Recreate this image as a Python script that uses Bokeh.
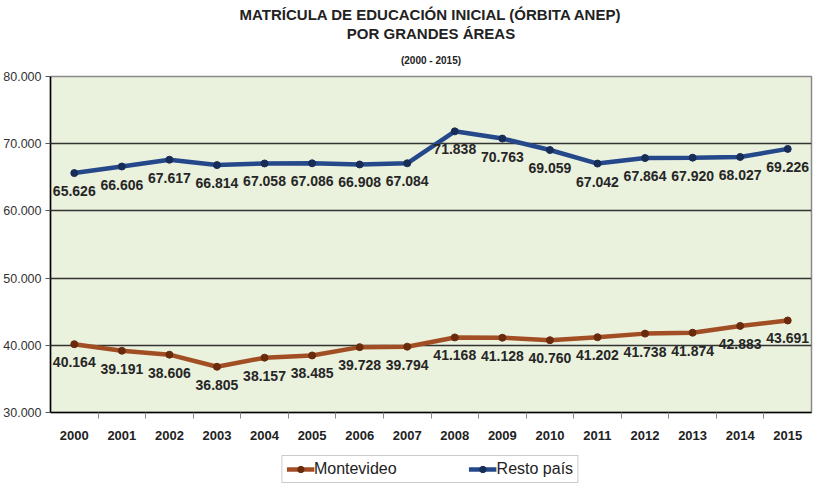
from bokeh.plotting import figure
from bokeh.layouts import column
from bokeh.models import (Title, Legend, LegendItem, FixedTicker, ColumnDataSource, Range1d, Spacer)
from bokeh.core.properties import value
from bokeh.embed import file_html
from bokeh.resources import INLINE

years = list(range(2000, 2016))
montevideo = [40164, 39191, 38606, 36805, 38157, 38485, 39728, 39794, 41168, 41128,
              40760, 41202, 41738, 41874, 42883, 43691]
resto = [65626, 66606, 67617, 66814, 67058, 67086, 66908, 67084, 71838, 70763,
         69059, 67042, 67864, 67920, 68027, 69226]
y_ticks = [30000, 40000, 50000, 60000, 70000, 80000]
title_1 = "MATRÍCULA DE EDUCACIÓN INICIAL (ÓRBITA ANEP)"
title_2 = "POR GRANDES ÁREAS"
subtitle = "(2000 - 2015)"
series_names = ["Montevideo", "Resto país"]

def fmt(v):
    return "{:,}".format(v).replace(",", ".")

mv_labels = [fmt(v) for v in montevideo]
rp_labels = [fmt(v) for v in resto]

src_mv = ColumnDataSource(dict(x=years, y=montevideo, t=mv_labels))
src_rp = ColumnDataSource(dict(x=years, y=resto, t=rp_labels))

p = figure(frame_width=761, frame_height=336, output_backend="svg", toolbar_location=None,
           x_range=Range1d(1999.5, 2015.5), y_range=Range1d(30000, 80000),
           min_border_left=48, min_border_right=2, min_border_top=0, min_border_bottom=36)
p.border_fill_color = "white"
p.background_fill_color = "#EAF1DD"
p.outline_line_color = "#8a8a8a"
p.outline_line_width = 1.5

tfont = "Liberation Sans"
sub = Title(text=subtitle, align="center", text_font_size="10px", text_font_style="bold",
            text_color="#222222", standoff=22, text_font=tfont)
t2 = Title(text=title_2, align="center", text_font_size="15px", text_font_style="bold",
           text_color="#222222", standoff=0, text_font=tfont)
t1 = Title(text=title_1, align="center", text_font_size="15px", text_font_style="bold",
           text_color="#222222", standoff=0, text_font=tfont)
p.add_layout(sub, "above")
p.add_layout(t2, "above")
p.add_layout(t1, "above")

# axes
p.yaxis.ticker = FixedTicker(ticks=y_ticks)
p.yaxis.major_label_overrides = {t: fmt(t) for t in y_ticks}
p.yaxis.major_label_text_font = "Liberation Sans"
p.yaxis.major_label_text_font_size = "12.5px"
p.yaxis.major_label_text_color = "#333333"
p.yaxis.axis_line_color = "black"
p.yaxis.axis_line_width = 1.5
p.yaxis.major_tick_line_color = "#555555"
p.yaxis.major_tick_in = 0
p.yaxis.major_tick_out = 5
p.yaxis.minor_tick_line_color = None
p.yaxis.major_label_standoff = 4

p.xaxis.ticker = FixedTicker(ticks=years, minor_ticks=[y + 0.5 for y in years[:-1]])
p.xaxis.major_label_text_font = "Liberation Sans"
p.xaxis.major_label_text_font_style = "bold"
p.xaxis.major_label_text_font_size = "13px"
p.xaxis.major_label_text_color = "#222222"
p.xaxis.major_tick_in = 0
p.xaxis.major_tick_out = 0
p.xaxis.minor_tick_in = 0
p.xaxis.minor_tick_out = 6
p.xaxis.minor_tick_line_color = "#888888"
p.xaxis.axis_line_color = "black"
p.xaxis.axis_line_width = 1.5
p.xaxis.major_label_standoff = 12

p.xgrid.grid_line_color = None
p.ygrid.ticker = FixedTicker(ticks=[40000, 50000, 60000, 70000])
p.ygrid.grid_line_color = "#333333"
p.ygrid.grid_line_width = 1.5

# series
mv_color = "#A24E24"
rp_color = "#24488A"
mv_dot = "#6A2A0C"
rp_dot = "#172C57"
p.line("x", "y", source=src_mv, line_color=mv_color, line_width=4.5)
p.scatter("x", "y", source=src_mv, size=7, fill_color=mv_dot, line_color=mv_dot)
p.line("x", "y", source=src_rp, line_color=rp_color, line_width=4.5)
p.scatter("x", "y", source=src_rp, size=7, fill_color=rp_dot, line_color=rp_dot)

lab_font = value("Liberation Sans")
p.text("x", "y", text="t", source=src_mv, text_align="center", text_baseline="middle",
       y_offset=18, text_font=lab_font, text_font_style="bold", text_font_size="14px",
       text_color="#262626")
p.text("x", "y", text="t", source=src_rp, text_align="center", text_baseline="middle",
       y_offset=18, text_font=lab_font, text_font_style="bold", text_font_size="14px",
       text_color="#262626")

# legend in its own strip below the chart (its glyphs lie outside this strip's view)
lg = figure(width=811, height=35, output_backend="svg", toolbar_location=None,
            x_range=Range1d(0, 1), y_range=Range1d(0, 1), min_border=0)
lg.axis.visible = False
lg.grid.visible = False
lg.outline_line_color = None
lg.border_fill_color = "white"
lg.background_fill_color = "white"
la = lg.line("x", "y", source=src_mv, line_color=mv_color, line_width=4.5)
sa = lg.scatter("x", "y", source=src_mv, size=7, fill_color=mv_dot, line_color=mv_dot)
lb = lg.line("x", "y", source=src_rp, line_color=rp_color, line_width=4.5)
sb = lg.scatter("x", "y", source=src_rp, size=7, fill_color=rp_dot, line_color=rp_dot)
legend = Legend(items=[LegendItem(label=series_names[0], renderers=[la, sa]),
                       LegendItem(label=series_names[1], renderers=[lb, sb])],
                orientation="horizontal", location="bottom_center")
legend.label_text_font = "Liberation Sans"
legend.label_text_font_size = "16px"
legend.label_text_color = "#222222"
legend.label_height = 16
legend.glyph_width = 28
legend.glyph_height = 16
legend.label_standoff = 0
legend.spacing = 72
legend.padding = 4
legend.margin = 0
legend.border_line_color = "#999999"
legend.border_line_width = 1
legend.background_fill_color = "white"
lg.add_layout(legend, "center")

layout = column(Spacer(height=3, width=811), p, lg)
open("out.html", "w").write(file_html(layout, INLINE))
